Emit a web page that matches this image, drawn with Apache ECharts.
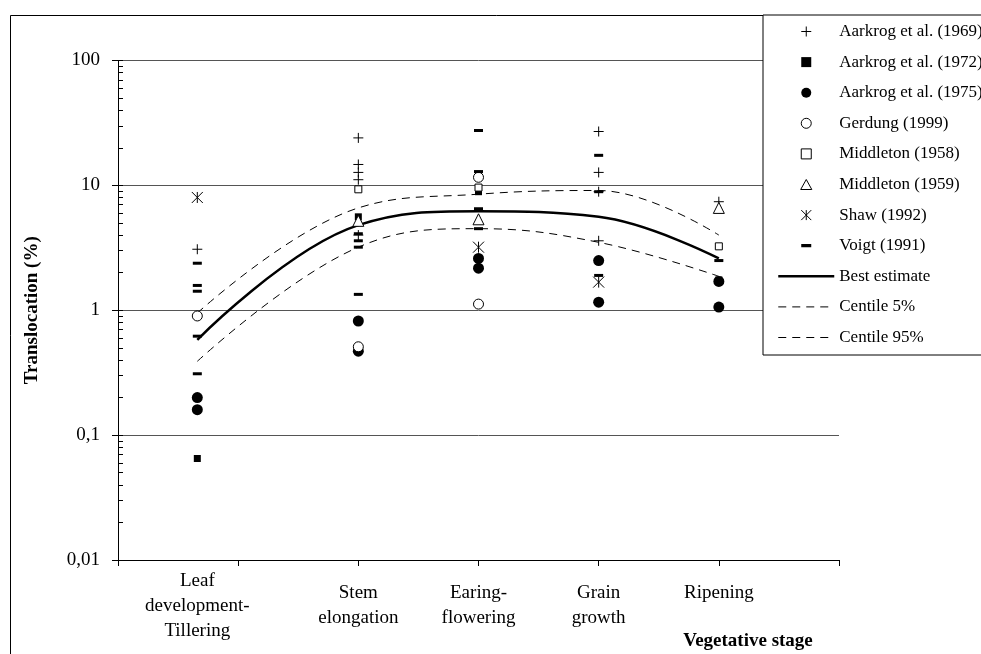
<!DOCTYPE html>
<html>
<head>
<meta charset="utf-8">
<script src="https://cdn.jsdelivr.net/npm/echarts@6/dist/echarts.min.js"></script>
<style>
  html, body { margin: 0; padding: 0; background: #fff; }
  #main { width: 981px; height: 654px; }
</style>
</head>
<body>
<div id="main"></div>
<script>
// stages along the x axis (value axis 0..6)
var stageNames = ['Leaf\ndevelopment-\nTillering', 'Stem\nelongation', 'Earing-\nflowering', 'Grain\ngrowth', 'Ripening\n'];
var stageX = [0.66, 2, 3, 4, 5];

// measured values: [stage index, translocation %]
var aarkrog1969 = [[0, 3.08], [1, 24], [1, 14.7], [1, 12.7], [1, 11.1], [1, 4.0], [3, 27], [3, 12.7], [3, 8.9], [3, 3.6], [4, 7.4]];
var aarkrog1972 = [[0, 0.065], [1, 5.6], [2, 8.9], [4, 1.75]];
var aarkrog1975 = [[0, 0.2], [0, 0.16], [1, 0.82], [1, 0.47], [2, 2.6], [2, 2.17], [3, 2.5], [3, 1.16], [4, 1.7], [4, 1.06]];
var gerdung1999 = [[0, 0.9], [1, 0.51], [2, 11.6], [2, 1.12]];
var middleton1958 = [[1, 9.3], [2, 9.6], [4, 3.25]];
var middleton1959 = [[1, 5.2], [2, 5.35], [4, 6.6]];
var shaw1992 = [[0, 8], [2, 3.2], [3, 1.68]];
var voigt1991 = [[0, 2.38], [0, 1.58], [0, 1.42], [0, 0.62], [0, 0.31], [1, 4.1], [1, 3.6], [1, 3.2], [1, 1.34],
  [2, 27.5], [2, 12.9], [2, 6.5], [2, 4.5], [3, 17.4], [3, 8.9], [3, 1.9], [4, 2.5]];

// model curves, one value per stage
var bestEstimate = [0.58, 4.8, 6.2, 5.6, 2.6];
var centile5 = [0.95, 6.6, 8.5, 9.1, 4.0];
var centile95 = [0.39, 3.2, 4.5, 3.5, 1.87];

var yTicks = [0.01, 0.1, 1, 10, 100];

var FONT = '"Liberation Serif", "Times New Roman", serif';

// log minor ticks 1..9 per decade
var minorTicks = [];
for (var d = 0; d < yTicks.length - 1; d++) {
  for (var k = 1; k <= 9; k++) minorTicks.push(+(yTicks[d] * k).toPrecision(3));
}
minorTicks.push(yTicks[yTicks.length - 1]);

function pts(arr) {
  return arr.map(function (p) { return [stageX[p[0]], p[1]]; });
}
function curve(arr) {
  return arr.map(function (v, i) { return [stageX[i], v]; });
}

var black = '#000';
var plusPath = 'path://M5,0L5,10M0,5L10,5';
var starPath = 'path://M0,0L10,10M10,0L0,10M5,0L5,10';
var dashPath = 'path://M0,0L9,0L9,3L0,3Z';
// same dash, padded to a square box so the legend keeps its shape
var dashIcon = 'path://M0,0L0.01,0M9,9L9.01,9M0,3L9,3L9,6L0,6Z';
var squarePath = 'path://M0,0L10,0L10,10L0,10Z';
var trianglePath = 'path://M5,0L10,9L0,9Z';
var dashType = [8, 6];

function scatter(name, data, symbol, size, fill, stroke, icon) {
  return {
    name: name,
    type: 'scatter',
    data: pts(data),
    symbol: symbol,
    symbolSize: size,
    symbolKeepAspect: true,
    legendIcon: icon,
    z: 5,
    itemStyle: { color: fill, opacity: 1, borderColor: black, borderWidth: stroke ? 1 : 0 }
  };
}

var series = [
  scatter('Aarkrog et al. (1969)', aarkrog1969, plusPath, 10, black, true, plusPath),
  scatter('Aarkrog et al. (1972)', aarkrog1972, 'rect', 7, black, false, squarePath),
  scatter('Aarkrog et al. (1975)', aarkrog1975, 'circle', 11, black, false, 'circle'),
  scatter('Gerdung (1999)', gerdung1999, 'circle', 10, '#fff', true, 'circle'),
  scatter('Middleton (1958)', middleton1958, 'rect', 7, '#fff', true, squarePath),
  scatter('Middleton (1959)', middleton1959, 'triangle', 11, '#fff', true, trianglePath),
  scatter('Shaw (1992)', shaw1992, starPath, 11, black, true, starPath),
  scatter('Voigt (1991)', voigt1991, dashPath, 9, black, false, dashIcon),
  {
    name: 'Best estimate', type: 'line', data: curve(bestEstimate), smooth: 0.4,
    symbol: 'none', z: 3, lineStyle: { color: black, width: 2.5 }, itemStyle: { color: black }
  },
  {
    name: 'Centile 5%', type: 'line', data: curve(centile5), smooth: 0.4,
    symbol: 'none', z: 3, lineStyle: { color: black, width: 1, type: dashType }, itemStyle: { color: black }
  },
  {
    name: 'Centile 95%', type: 'line', data: curve(centile95), smooth: 0.4,
    symbol: 'none', z: 3, lineStyle: { color: black, width: 1, type: dashType }, itemStyle: { color: black }
  }
];

var chart = echarts.init(document.getElementById('main'));
chart.setOption({
  animation: false,
  backgroundColor: '#fff',
  grid: { left: 118, right: 142, top: 60.5, bottom: 94, containLabel: false },
  xAxis: {
    type: 'value', min: 0, max: 6, interval: 1,
    axisLine: { onZero: false, lineStyle: { color: black, width: 1 } },
    axisTick: { length: 6, lineStyle: { color: black } },
    splitLine: { show: false },
    axisLabel: {
      customValues: stageX,
      margin: 46, verticalAlign: 'middle', lineHeight: 25,
      fontFamily: FONT, fontSize: 19, color: black,
      formatter: function (v) { var i = stageX.indexOf(v); return i >= 0 ? stageNames[i] : ''; }
    }
  },
  yAxis: [{
    type: 'log', logBase: 10, min: 0.01, max: 100,
    name: 'Translocation (%)', nameLocation: 'middle', nameRotate: 90, nameGap: 76,
    nameTextStyle: { fontFamily: FONT, fontWeight: 'bold', fontSize: 19, color: black },
    axisLine: { show: true, onZero: false, lineStyle: { color: black, width: 1 } },
    axisTick: { show: true, length: 6, lineStyle: { color: black } },
    splitLine: { show: true, lineStyle: { color: '#555', width: 1 } },
    axisLabel: {
      margin: 18, fontFamily: FONT, fontSize: 19, color: black,
      formatter: function (v) { return String(+v.toPrecision(6)).replace('.', ','); }
    }
  }, {
    type: 'log', logBase: 10, min: 0.01, max: 100, position: 'left',
    axisLine: { show: false, onZero: false },
    axisLabel: { show: false },
    splitLine: { show: false },
    axisTick: { show: true, inside: true, length: 5, customValues: minorTicks, lineStyle: { color: black } }
  }],
  legend: {
    orient: 'vertical', left: 763, top: 15,
    padding: [8, 40, 9, 14],
    itemWidth: 56, itemHeight: 10, itemGap: 13.6,
    symbolKeepAspect: true,
    borderColor: black, borderWidth: 1, backgroundColor: '#fff',
    textStyle: { fontFamily: FONT, fontSize: 17, color: black },
    z: 10,
    data: series.map(function (s) {
      if (s.type === 'line') {
        return { name: s.name, itemStyle: { opacity: 0 }, lineStyle: { width: s.lineStyle.width, type: s.lineStyle.type || 'solid' } };
      }
      return { name: s.name, icon: s.legendIcon, itemStyle: { borderWidth: s.itemStyle.borderWidth } };
    })
  },
  graphic: [
    {
      type: 'rect', silent: true, z: -1,
      shape: { x: 10.5, y: 15.5, width: 1100, height: 800 },
      style: { fill: 'none', stroke: black, lineWidth: 1 }
    },
    {
      type: 'text', x: 748, y: 641,
      style: { text: 'Vegetative stage', font: 'bold 19px ' + FONT, fill: black, align: 'center', verticalAlign: 'middle' }
    }
  ],
  series: series
});
</script>
</body>
</html>
